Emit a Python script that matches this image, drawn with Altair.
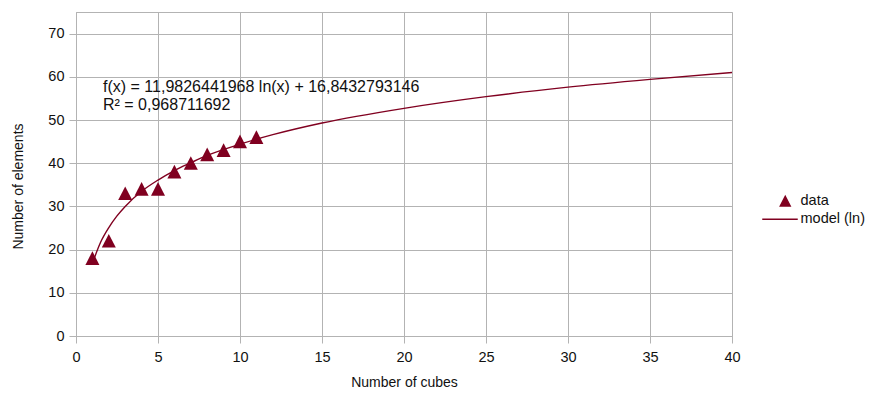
import altair as alt
import pandas as pd

# observed data
cubes = [1, 2, 3, 4, 5, 6, 7, 8, 9, 10, 11]
elements = [18, 22, 33, 34, 34, 38, 40, 42, 43, 45, 46]

# fitted trend line
model_x = [1, 1.5, 2, 2.5, 3, 4, 5, 6, 7, 8, 10, 12, 15, 20, 25, 30, 35, 40]
model_y = [16.8, 21.7, 25.1, 27.8, 30.0, 33.5, 36.1, 38.3, 40.1, 41.8, 44.4,
           46.6, 49.3, 52.7, 55.4, 57.6, 59.4, 61.0]

series = ["data", "model (ln)"]
annotation = ["f(x) = 11,9826441968 ln(x) + 16,8432793146\nR² = 0,968711692"]

pts = pd.DataFrame({"x": cubes, "y": elements, "series": "data"})
mdl = pd.DataFrame({"x": model_x, "y": model_y, "series": "model (ln)"})
ann = pd.DataFrame({"t": annotation})

DARK = "#800020"
TRI = "M0,-1L1,0.95L-1,0.95Z"
STROKE = "M-4.6,0L2.5,0"

xs = alt.Scale(domain=[0, 40], nice=False)
ys = alt.Scale(domain=[0, 75], nice=False)
leg = alt.Legend(title=None, orient="none", legendX=702, legendY=182, labelLimit=300)
color = alt.Color("series:N", scale=alt.Scale(domain=series, range=[DARK, DARK]), legend=leg)

xaxis = alt.Axis(values=list(range(0, 41, 5)), title="Number of cubes")
yaxis = alt.Axis(values=list(range(0, 71, 10)), title="Number of elements",
                 titleY=174, titleX=-51)

line = alt.Chart(mdl).mark_line(strokeWidth=1.4, interpolate="monotone").encode(
    x=alt.X("x:Q", scale=xs, axis=xaxis),
    y=alt.Y("y:Q", scale=ys, axis=yaxis),
    color=color,
)

points = alt.Chart(pts).mark_point(filled=True, opacity=1, size=196, strokeWidth=0).encode(
    x=alt.X("x:Q", scale=xs),
    y=alt.Y("y:Q", scale=ys),
    color=color,
    shape=alt.Shape("series:N", scale=alt.Scale(domain=series, range=[TRI, STROKE]), legend=leg),
)

text = alt.Chart(ann).mark_text(align="left", baseline="middle", fontSize=16, lineBreak="\n",
                                lineHeight=18, font="Liberation Sans",
                                color="#111111").encode(
    x=alt.value(27),
    y=alt.value(75),
    text="t:N",
)

chart = alt.layer(line, points, text).properties(
    width=656, height=324,
    autosize=alt.AutoSizeParams(type="none"),
    padding={"left": 68, "top": 4, "right": 134, "bottom": 53},
).configure_view(stroke="#b3b3b3", strokeWidth=1).configure_axis(
    gridColor="#b3b3b3", gridWidth=1, domainColor="#b3b3b3", tickColor="#b3b3b3",
    tickSize=7, labelFont="Liberation Sans", labelFontSize=14.5, labelColor="#111111",
    labelFlush=False,
    titleFont="Liberation Sans", titleFontSize=14, titleFontWeight="normal",
    titleColor="#111111",
).configure_axisX(labelPadding=7, titlePadding=12).configure_axisY(
    labelPadding=5, titlePadding=22
).configure_legend(
    labelFont="Liberation Sans", labelFontSize=14.5, labelColor="#111111",
    symbolSize=100, symbolStrokeWidth=1.4, symbolStrokeColor=DARK, symbolFillColor=DARK,
    rowPadding=2, labelOffset=8,
)

chart.save("out.html", embed_options={"renderer": "svg", "actions": False})
